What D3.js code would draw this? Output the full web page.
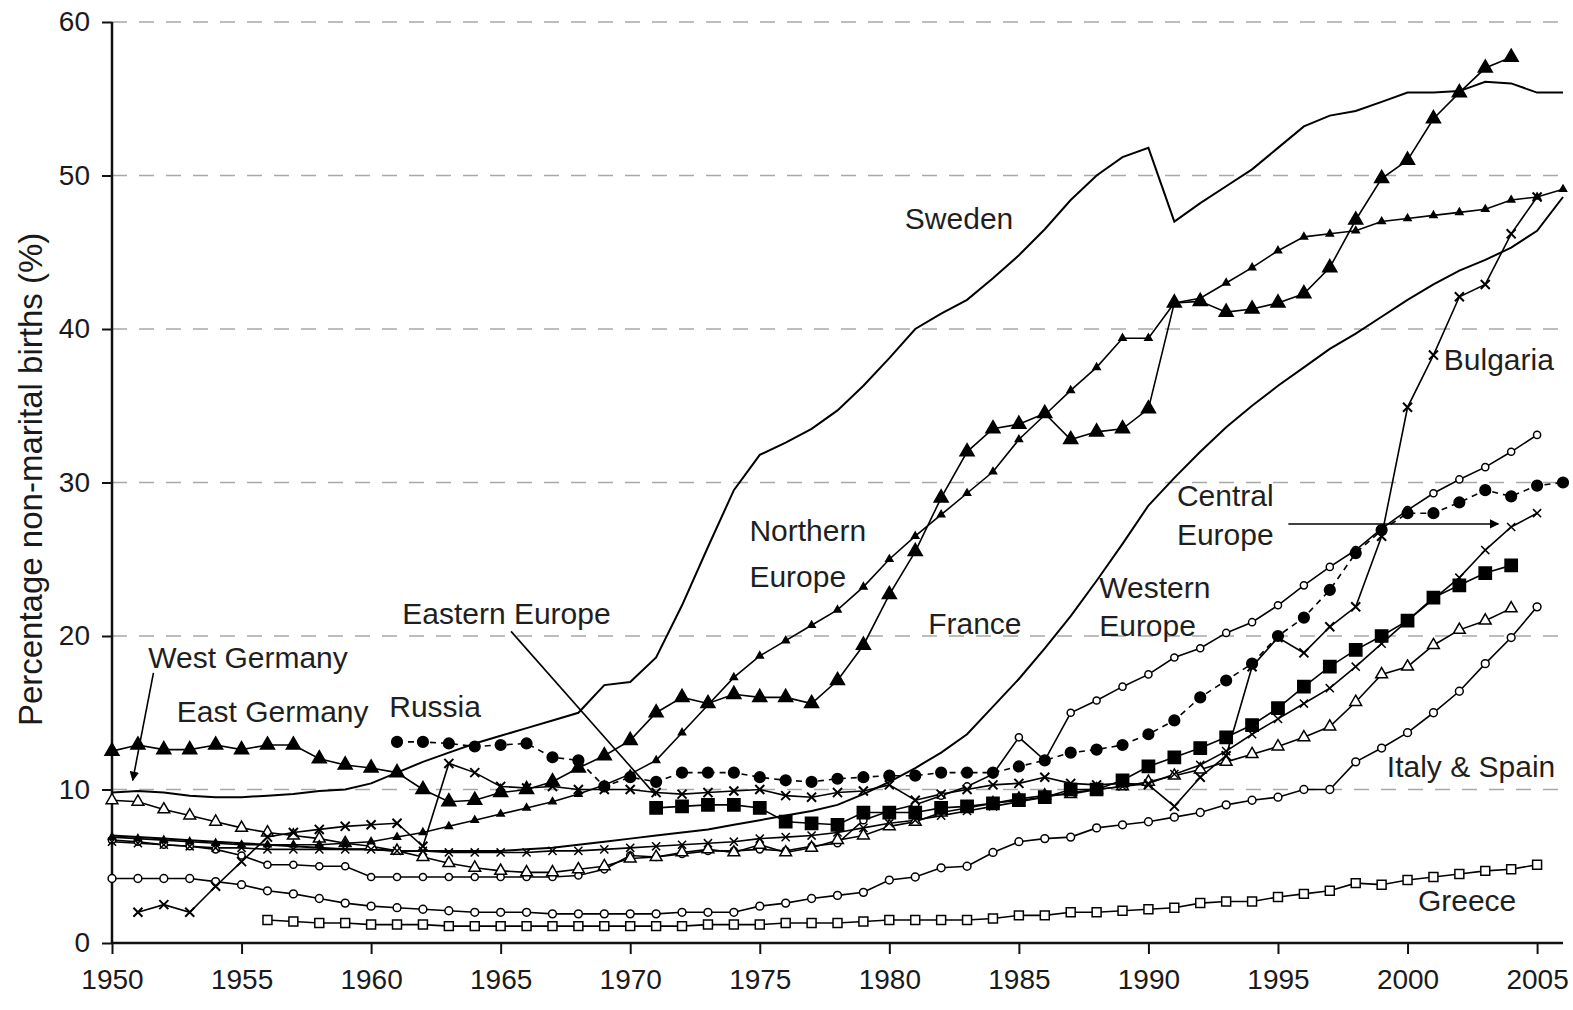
<!DOCTYPE html>
<html>
<head>
<meta charset="utf-8">
<script src="https://cdn.jsdelivr.net/npm/d3@7"></script>
<style>
  body { margin: 0; background: #fff; }
  svg { display: block; font-family: "Liberation Sans", Arial, sans-serif; }
</style>
</head>
<body>
<div id="chart"></div>
<script>
// values, one value per year from the start year
const swedenStart = 1950;
const sweden = [9.8, 9.9, 9.8, 9.6, 9.5, 9.5, 9.6, 9.7, 9.9, 10.0,
    10.4, 11.1, 11.8, 12.4, 13.0, 13.5, 14.0, 14.5, 15.0, 16.8,
    17.0, 18.6, 22.0, 25.8, 29.5, 31.8, 32.6, 33.5, 34.7, 36.3,
    38.1, 40.0, 41.0, 41.9, 43.3, 44.8, 46.5, 48.4, 50.0, 51.2,
    51.8, 47.0, 48.2, 49.3, 50.4, 51.8, 53.2, 53.9, 54.2, 54.8,
    55.4, 55.4, 55.5, 56.1, 56.0, 55.4, 55.4];

const eastGermanyStart = 1950;
const eastGermany = [12.5, 12.9, 12.6, 12.6, 12.9, 12.6, 12.9, 12.9, 12.0, 11.6,
    11.4, 11.1, 10.0, 9.2, 9.3, 9.8, 10.0, 10.5, 11.4, 12.2,
    13.2, 15.0, 16.0, 15.6, 16.2, 16.0, 16.0, 15.6, 17.1, 19.4,
    22.7, 25.5, 29.0, 32.0, 33.5, 33.8, 34.5, 32.8, 33.3, 33.5,
    34.8, 41.7, 41.8, 41.1, 41.3, 41.7, 42.3, 44.0, 47.1, 49.8,
    51.0, 53.7, 55.4, 57.0, 57.7];

const northernStart = 1950;
const northern = [6.9, 6.8, 6.7, 6.6, 6.5, 6.4, 6.4, 6.4, 6.4, 6.5,
    6.6, 6.9, 7.2, 7.6, 8.0, 8.4, 8.8, 9.2, 9.7, 10.3,
    11.0, 11.9, 13.7, 15.5, 17.3, 18.7, 19.7, 20.7, 21.7, 23.2,
    25.0, 26.5, 27.9, 29.3, 30.7, 32.8, 34.4, 36.0, 37.5, 39.4,
    39.4, 41.7, 42.0, 43.0, 44.0, 45.1, 46.0, 46.2, 46.4, 47.0,
    47.2, 47.4, 47.6, 47.8, 48.4, 48.6, 49.1];

const franceStart = 1950;
const france = [7.0, 6.9, 6.8, 6.7, 6.6, 6.5, 6.4, 6.3, 6.2, 6.1,
    6.1, 6.0, 6.0, 6.0, 6.0, 6.0, 6.1, 6.2, 6.4, 6.6,
    6.8, 7.0, 7.2, 7.4, 7.7, 8.0, 8.3, 8.6, 9.0, 9.7,
    10.5, 11.4, 12.4, 13.6, 15.4, 17.2, 19.2, 21.3, 23.6, 26.0,
    28.5, 30.3, 32.0, 33.6, 35.0, 36.3, 37.5, 38.7, 39.7, 40.8,
    41.9, 42.9, 43.8, 44.5, 45.3, 46.4, 48.6];

const westGermanyStart = 1950;
const westGermany = [9.3, 9.2, 8.7, 8.3, 7.9, 7.5, 7.2, 7.0, 6.8, 6.5,
    6.3, 6.0, 5.6, 5.2, 4.9, 4.7, 4.6, 4.6, 4.8, 5.0,
    5.5, 5.6, 5.9, 6.1, 5.9, 6.4, 5.9, 6.2, 6.7, 7.0,
    7.6, 7.9, 8.5, 8.8, 9.1, 9.4, 9.6, 9.7, 10.0, 10.2,
    10.5, 10.9, 11.3, 11.8, 12.3, 12.8, 13.4, 14.1, 15.7, 17.5,
    18.0, 19.4, 20.4, 21.0, 21.8];

const russiaStart = 1961;
const russia = [13.1, 13.1, 13.0, 12.8, 12.9, 13.0, 12.1, 11.9, 10.2,
    10.8, 10.5, 11.1, 11.1, 11.1, 10.8, 10.6, 10.5, 10.7, 10.8,
    10.9, 10.9, 11.1, 11.1, 11.1, 11.5, 11.9, 12.4, 12.6, 12.9,
    13.6, 14.5, 16.0, 17.1, 18.2, 20.0, 21.2, 23.0, 25.4, 26.9,
    28.0, 28.0, 28.7, 29.5, 29.1, 29.8, 30.0];

const easternStart = 1971;
const eastern = [8.8, 8.9, 9.0, 9.0, 8.8, 7.9, 7.8, 7.7, 8.5,
    8.5, 8.5, 8.8, 8.9, 9.1, 9.3, 9.5, 10.0, 10.0, 10.6,
    11.5, 12.1, 12.7, 13.4, 14.2, 15.3, 16.7, 18.0, 19.1, 20.0,
    21.0, 22.5, 23.3, 24.1, 24.6];

const westernStart = 1950;
const western = [6.7, 6.6, 6.4, 6.3, 6.1, 5.7, 5.1, 5.1, 5.0, 5.0,
    4.3, 4.3, 4.3, 4.3, 4.3, 4.3, 4.3, 4.3, 4.4, 4.8,
    5.7, 5.6, 5.8, 6.0, 6.0, 6.1, 6.0, 6.3, 6.5, 8.0,
    8.6, 9.0, 9.6, 10.2, 11.0, 13.4, 11.9, 15.0, 15.8, 16.7,
    17.5, 18.6, 19.2, 20.2, 20.9, 22.0, 23.3, 24.5, 25.6, 27.0,
    28.2, 29.3, 30.2, 31.0, 32.0, 33.1];

const italySpainStart = 1950;
const italySpain = [4.2, 4.2, 4.2, 4.2, 4.0, 3.8, 3.4, 3.2, 2.9, 2.6,
    2.4, 2.3, 2.2, 2.1, 2.0, 2.0, 2.0, 1.9, 1.9, 1.9,
    1.9, 1.9, 2.0, 2.0, 2.0, 2.4, 2.6, 2.9, 3.1, 3.3,
    4.1, 4.3, 4.9, 5.0, 5.9, 6.6, 6.8, 6.9, 7.5, 7.7,
    7.9, 8.2, 8.5, 9.0, 9.3, 9.5, 10.0, 10.0, 11.8, 12.7,
    13.7, 15.0, 16.4, 18.2, 19.9, 21.9];

const greeceStart = 1956;
const greece = [1.5, 1.4, 1.3, 1.3,
    1.2, 1.2, 1.2, 1.1, 1.1, 1.1, 1.1, 1.1, 1.1, 1.1,
    1.1, 1.1, 1.1, 1.2, 1.2, 1.2, 1.3, 1.3, 1.3, 1.4,
    1.5, 1.5, 1.5, 1.5, 1.6, 1.8, 1.8, 2.0, 2.0, 2.1,
    2.2, 2.3, 2.6, 2.7, 2.7, 3.0, 3.2, 3.4, 3.9, 3.8,
    4.1, 4.3, 4.5, 4.7, 4.8, 5.1];

const centralStart = 1950;
const central = [6.6, 6.5, 6.4, 6.3, 6.2, 6.2, 6.1, 6.1, 6.1, 6.1,
    6.1, 6.0, 6.0, 5.9, 5.9, 5.9, 5.9, 6.0, 6.0, 6.1,
    6.2, 6.3, 6.4, 6.5, 6.6, 6.8, 6.9, 7.0, 7.2, 7.5,
    7.8, 8.0, 8.3, 8.6, 8.9, 9.2, 9.5, 9.8, 10.0, 10.2,
    10.4, 11.0, 11.6, 12.5, 13.6, 14.6, 15.6, 16.6, 18.0, 19.5,
    21.0, 22.4, 23.8, 25.6, 27.1, 28.0];

const bulgariaStart = 1951;
const bulgaria = [2.0, 2.5, 2.0, 3.7, 5.3, 6.9, 7.2, 7.4, 7.6,
    7.7, 7.8, 6.3, 11.7, 11.1, 10.2, 10.1, 10.2, 10.0, 10.0,
    10.0, 9.8, 9.7, 9.8, 9.9, 10.0, 9.6, 9.5, 9.8, 9.9,
    10.3, 9.3, 9.7, 10.0, 10.3, 10.4, 10.8, 10.4, 10.3, 10.4,
    10.3, 8.9, 10.8, 12.2, 18.0, 19.9, 18.9, 20.6, 21.9, 26.5,
    34.9, 38.3, 42.1, 42.9, 46.2, 48.6];

const yTicks = [0, 10, 20, 30, 40, 50, 60];
const xTicks = [1950, 1955, 1960, 1965, 1970, 1975, 1980, 1985, 1990, 1995, 2000, 2005];

// labels written on the chart: [text, year, value] of the baseline start
const labels = [
    ["Sweden", 1980.6, 46.5],
    ["Northern", 1974.6, 26.2],
    ["Europe", 1974.6, 23.2],
    ["Eastern Europe", 1961.2, 20.8],
    ["France", 1981.5, 20.1],
    ["Western", 1988.1, 22.5],
    ["Europe", 1988.1, 20.0],
    ["Central", 1991.1, 28.5],
    ["Europe", 1991.1, 25.9],
    ["Bulgaria", 2001.4, 37.3],
    ["Italy & Spain", 1999.2, 10.8],
    ["Greece", 2000.4, 2.1],
    ["West Germany", 1951.4, 17.9],
    ["East Germany", 1952.5, 14.4],
    ["Russia", 1960.7, 14.7]
];
// pointer lines: [year1, value1, year2, value2, arrow]
const pointers = [
    [1951.6, 17.6, 1950.8, 10.6, true],
    [1965.4, 20.3, 1971.0, 9.6, false],
    [1995.4, 27.3, 2003.5, 27.3, true]
];

const width = 1573;
const height = 1010;
const x = d3.scaleLinear().domain([1950, 2006]).range([112, 1563]);
const y = d3.scaleLinear().domain([0, 60]).range([943, 22]);

function points(start, values) {
    return values.map((v, i) => ({year: start + i, value: v}));
}

const series = [
    {name: "Greece", data: points(greeceStart, greece), symbol: d3.symbolSquare, size: 80, fill: "#fff"},
    {name: "Italy & Spain", data: points(italySpainStart, italySpain), symbol: d3.symbolCircle, size: 48, fill: "#fff"},
    {name: "Western Europe", data: points(westernStart, western), symbol: d3.symbolCircle, size: 40, fill: "#fff"},
    {name: "West Germany", data: points(westGermanyStart, westGermany), symbol: d3.symbolTriangle, size: 60, fill: "#fff"},
    {name: "Central Europe", data: points(centralStart, central), symbol: d3.symbolTimes, size: 45, fill: "none"},
    {name: "Bulgaria", data: points(bulgariaStart, bulgaria), symbol: d3.symbolTimes, size: 55, fill: "none", sw: 2},
    {name: "France", data: points(franceStart, france), symbol: null},
    {name: "Sweden", data: points(swedenStart, sweden), symbol: null},
    {name: "Eastern Europe", data: points(easternStart, eastern), symbol: d3.symbolSquare, size: 150, fill: "#000"},
    {name: "Russia", data: points(russiaStart, russia), symbol: d3.symbolCircle, size: 90, fill: "#000", dash: "6,5"},
    {name: "Northern Europe", data: points(northernStart, northern), symbol: d3.symbolTriangle, size: 22, fill: "#000"},
    {name: "East Germany", data: points(eastGermanyStart, eastGermany), symbol: d3.symbolTriangle, size: 85, fill: "#000"}
];

const svg = d3.select("#chart")
    .append("svg")
    .attr("width", width)
    .attr("height", height);

svg.append("rect")
    .attr("width", width)
    .attr("height", height)
    .attr("fill", "#fff");

svg.append("defs").append("marker")
    .attr("id", "arrow")
    .attr("viewBox", "0 0 10 10")
    .attr("refX", 9)
    .attr("refY", 5)
    .attr("markerWidth", 6)
    .attr("markerHeight", 6)
    .attr("markerUnits", "strokeWidth")
    .attr("orient", "auto")
    .append("path")
    .attr("d", "M0,0L10,5L0,10z")
    .attr("fill", "#000");

// dashed grid
svg.selectAll("line.grid")
    .data(yTicks.filter(d => d > 0))
    .enter()
    .append("line")
    .attr("class", "grid")
    .attr("x1", x(1950))
    .attr("x2", x(2006))
    .attr("y1", d => y(d))
    .attr("y2", d => y(d))
    .attr("stroke", "#a8a8a8")
    .attr("stroke-width", 1.6)
    .attr("stroke-dasharray", "15,12");

// axes
const yAxis = d3.axisLeft(y)
    .tickValues(yTicks)
    .tickSize(10)
    .tickPadding(12);
const xAxis = d3.axisBottom(x)
    .tickValues(xTicks)
    .tickFormat(d3.format("d"))
    .tickSize(11)
    .tickPadding(15);

const gy = svg.append("g")
    .attr("transform", "translate(" + x(1950) + ",0)")
    .call(yAxis);
const gx = svg.append("g")
    .attr("transform", "translate(0," + y(0) + ")")
    .call(xAxis);

[gx, gy].forEach(g => {
    g.select(".domain").attr("stroke", "#111").attr("stroke-width", 2.5);
    g.selectAll(".tick line").attr("stroke", "#111").attr("stroke-width", 2);
    g.selectAll(".tick text")
        .attr("fill", "#1a1a1a")
        .style("font-size", "28px")
        .style("font-family", "'Liberation Sans', Arial, sans-serif");
});
gy.select(".domain").attr("d", "M0," + y(60) + "V" + y(0));
gx.select(".domain").attr("d", "M" + x(1950) + ",0H" + x(2006));

svg.append("text")
    .attr("transform", "translate(42," + y(30.2) + ") rotate(-90)")
    .attr("text-anchor", "middle")
    .attr("fill", "#1a1a1a")
    .style("font-size", "33px")
    .text("Percentage non-marital births (%)");

// lines and markers
const line = d3.line()
    .x(d => x(d.year))
    .y(d => y(d.value));

series.forEach(s => {
    svg.append("path")
        .datum(s.data)
        .attr("d", line)
        .attr("fill", "none")
        .attr("stroke", "#000")
        .attr("stroke-width", s.symbol ? 1.6 : 2)
        .attr("stroke-dasharray", s.dash || null);
});

series.forEach(s => {
    if (!s.symbol) return;
    svg.append("g")
        .selectAll("path")
        .data(s.data)
        .enter()
        .append("path")
        .attr("transform", d => "translate(" + x(d.year) + "," + y(d.value) + ")")
        .attr("d", d3.symbol().type(s.symbol).size(s.size))
        .attr("fill", s.fill)
        .attr("stroke", "#000")
        .attr("stroke-width", s.sw || 1.5);
});

// pointers and labels
svg.selectAll("line.pointer")
    .data(pointers)
    .enter()
    .append("line")
    .attr("class", "pointer")
    .attr("x1", d => x(d[0]))
    .attr("y1", d => y(d[1]))
    .attr("x2", d => x(d[2]))
    .attr("y2", d => y(d[3]))
    .attr("stroke", "#000")
    .attr("stroke-width", 1.6)
    .attr("marker-end", d => d[4] ? "url(#arrow)" : null);

svg.selectAll("text.label")
    .data(labels)
    .enter()
    .append("text")
    .attr("class", "label")
    .attr("x", d => x(d[1]))
    .attr("y", d => y(d[2]))
    .attr("fill", "#1f1f1f")
    .style("font-size", "30px")
    .text(d => d[0]);
</script>
</body>
</html>
